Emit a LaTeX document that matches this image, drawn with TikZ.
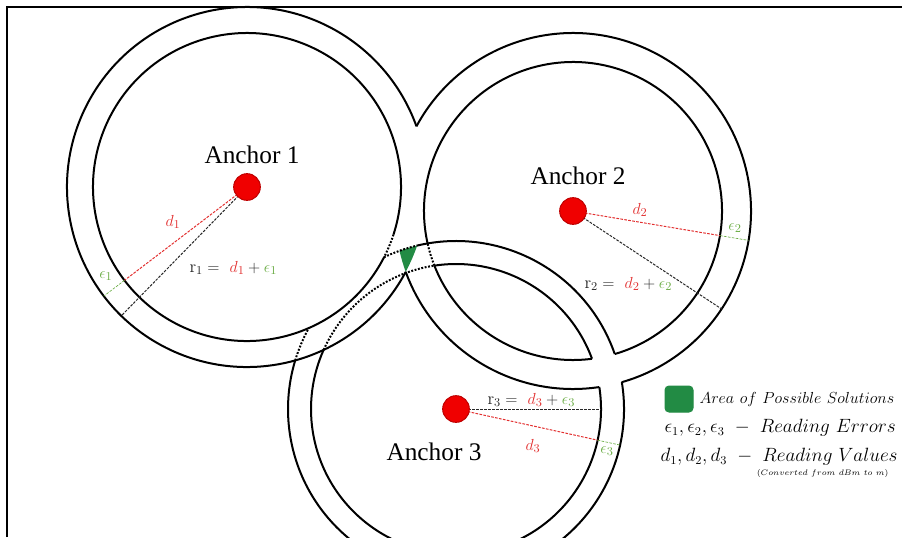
\documentclass[tikz,border=0pt]{standalone}
\usepackage{fontspec}
\newfontfamily\anchorfont{Liberation Serif}
\definecolor{dred}{RGB}{226,48,48}
\definecolor{egreen}{RGB}{106,172,68}
\definecolor{rgray}{RGB}{40,40,40}

\tikzset{every picture/.style={line width=0.75pt}}
\tikzset{
  ring/.style={line width=1.5pt},
  ringdot/.style={line width=1.5pt, dash pattern=on 1.4pt off 1.2pt},
  rdash/.style={line width=0.75pt, dash pattern=on 2pt off 1pt},
  anchordot/.style={circle, draw={rgb, 255:red, 190; green, 0; blue, 0 }, fill={rgb, 255:red, 240; green, 0; blue, 0 }, line width=0.75pt, minimum size=20pt, inner sep=0pt},
  anchorlbl/.style={inner sep=0.75pt, font=\anchorfont\fontsize{19}{23}\selectfont},
  eqlbl/.style={inner sep=0.75pt, font=\fontsize{13}{15}\selectfont},
  legendlbl/.style={inner sep=0.75pt, anchor=west, font=\fontsize{13.5}{16}\selectfont}
}

\begin{document}
\begin{tikzpicture}[x=0.75pt,y=0.75pt,yscale=-1,xscale=1]
\useasboundingbox (0,0) rectangle (902,537);

%Frame
\draw [line width=1.5pt] (7,537) -- (7,7) -- (902,7) ;

\coordinate (c1) at (247,187) ;
\coordinate (c2) at (573,211) ;
\coordinate (c3) at (456,409) ;

%Shape: Area of possible solutions
\fill [fill={rgb, 255:red, 34; green, 139; blue, 68 }] (c2) ++(160:178) arc[start angle=160, end angle=167.1, radius=178] arc[start angle=250.3, end angle=256.6, radius=168] arc[start angle=19, end angle=28.1, radius=180] -- cycle ;

%Shape: Arc [outer ring 1]
\draw [ring] (c1) ++(28.1:180) arc[start angle=28.1, end angle=340.3, radius=180] ;
%Shape: Arc [inner ring 1]
\draw [ring] (c1) ++(27.1:154) arc[start angle=27.1, end angle=378, radius=154] ;
\draw [ringdot] (c1) ++(18:154) arc[start angle=18, end angle=27.1, radius=154] ;

%Shape: Arc [outer ring 2]
\draw [ring] (c2) ++(208.4:178) arc[start angle=208.4, end angle=434.1, radius=178] ;
\draw [ring] (c2) ++(81.5:178) arc[start angle=81.5, end angle=160, radius=178] ;
%Shape: Arc [inner ring 2]
\draw [ring] (c2) ++(167.4:149) arc[start angle=167.4, end angle=433.7, radius=149] ;
\draw [ring] (c2) ++(82.7:149) arc[start angle=82.7, end angle=158.5, radius=149] ;
\draw [ringdot] (c2) ++(158.5:149) arc[start angle=158.5, end angle=167.4, radius=149] ;

%Shape: Arc [outer ring 3]
\draw [ring] (c3) ++(350.8:168) arc[start angle=350.8, end angle=556.8, radius=168] ;
\draw [ringdot] (c3) ++(196.8:168) arc[start angle=196.8, end angle=208.8, radius=168] ;
\draw [ringdot] (c3) ++(244.6:168) arc[start angle=244.6, end angle=256.6, radius=168] ;
\draw [ring] (c3) ++(256.6:168) arc[start angle=256.6, end angle=340.9, radius=168] ;
%Shape: Arc [inner ring 3]
\draw [ring] (c3) ++(351.3:145) arc[start angle=351.3, end angle=564.1, radius=145] ;
\draw [ringdot] (c3) ++(204.1:145) arc[start angle=204.1, end angle=261.4, radius=145] ;
\draw [ring] (c3) ++(261.4:145) arc[start angle=261.4, end angle=339.7, radius=145] ;

%Radius ends
\path (c1) ++(134.3:180) coordinate (r1end) ;
\path (c1) ++(142.7:154) coordinate (d1end) ;
\path (c1) ++(142.7:180) coordinate (e1end) ;
\path (c2) ++(33.4:178) coordinate (r2end) ;
\path (c2) ++(9.5:149) coordinate (d2end) ;
\path (c2) ++(9.5:178) coordinate (e2end) ;
\path (c3) ++(0:145) coordinate (r3end) ;
\path (c3) ++(12.4:145) coordinate (d3end) ;
\path (c3) ++(12.4:168) coordinate (e3end) ;

%Straight Lines
\draw [rdash, rgray] (c1) -- (r1end) ;
\draw [rdash, dred] (c1) -- (d1end) ;
\draw [rdash, egreen, line width=0.5pt] (d1end) -- (e1end) ;
\draw [rdash, rgray] (c2) -- (r2end) ;
\draw [rdash, dred] (c2) -- (d2end) ;
\draw [rdash, egreen, line width=0.5pt] (d2end) -- (e2end) ;
\draw [rdash, rgray] (c3) -- (r3end) ;
\draw [rdash, dred] (c3) -- (d3end) ;
\draw [rdash, egreen, line width=0.5pt] (d3end) -- (e3end) ;

%Anchors
\node [anchordot] (a1) at (c1) {} ;
\node [anchordot] (a2) at (c2) {} ;
\node [anchordot] (a3) at (c3) {} ;

% Text Node
\node [anchorlbl] (lbl1) at (252,155) {Anchor 1} ;
% Text Node
\node [anchorlbl] (lbl2) at (578,176) {Anchor 2} ;
% Text Node
\node [anchorlbl] (lbl3) at (434,452) {Anchor 3} ;
% Text Node
\node [eqlbl] (d1lbl) at (173,222) {$\color{dred}d_1$} ;
\node [eqlbl] (e1lbl) at (106,276) {$\color{egreen}\epsilon_1$} ;
\node [eqlbl, anchor=west] (r1lbl) at (188,268) {$\color{rgray}\mathrm{r}_1 =\ {\color{dred}d_1} + {\color{egreen}\epsilon_1}$} ;
% Text Node
\node [eqlbl] (d2lbl) at (640,210) {$\color{dred}d_2$} ;
\node [eqlbl] (e2lbl) at (735,228) {$\color{egreen}\epsilon_2$} ;
\node [eqlbl, anchor=west] (r2lbl) at (583,284) {$\color{rgray}\mathrm{r}_2 =\ {\color{dred}d_2} + {\color{egreen}\epsilon_2}$} ;
% Text Node
\node [eqlbl] (d3lbl) at (533,446) {$\color{dred}d_3$} ;
\node [eqlbl] (e3lbl) at (607,451) {$\color{egreen}\epsilon_3$} ;
\node [eqlbl, anchor=west] (r3lbl) at (486,400) {$\color{rgray}\mathrm{r}_3 =\ {\color{dred}d_3} + {\color{egreen}\epsilon_3}$} ;

%Legend
\draw [fill={rgb, 255:red, 34; green, 139; blue, 68 }, draw={rgb, 255:red, 34; green, 139; blue, 68 }, rounded corners=3pt] (665,386) rectangle (693,412) ;
% Text Node
\node [legendlbl, font=\fontsize{13}{16}\selectfont] (leg1) at (698,399) {$Area\ of\ Possible\ Solutions$} ;
% Text Node
\node [legendlbl] (leg2) at (663,428) {$\epsilon_1, \epsilon_2, \epsilon_3\ -\ Reading\ Errors$} ;
% Text Node
\node [legendlbl] (leg3) at (659,457) {$d_1, d_2, d_3\ -\ Reading\ Values$} ;
% Text Node
\node [inner sep=0.75pt, anchor=east, font=\fontsize{6.5}{8}\selectfont] (leg4) at (890,473) {$(Converted\ from\ dBm\ to\ m)$} ;

\end{tikzpicture}
\end{document}
